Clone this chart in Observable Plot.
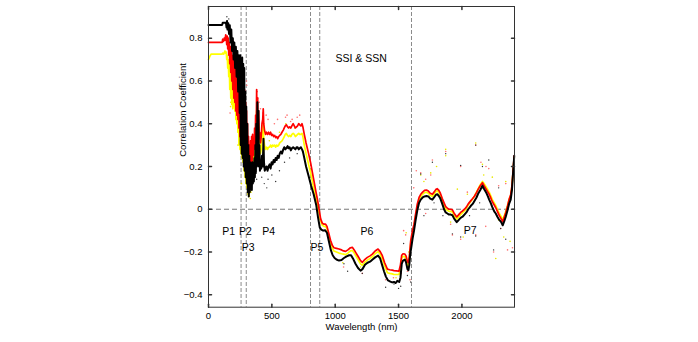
<!DOCTYPE html>
<html><head><meta charset="utf-8">
<script src="https://cdn.jsdelivr.net/npm/d3@7"></script>
<script src="https://cdn.jsdelivr.net/npm/@observablehq/plot@0.6"></script>
<style>
html,body{margin:0;padding:0;background:#fff}
#chart svg{display:block}
</style>
</head><body><div id="chart"></div>
<script>
// ---- data ----
const xTicks = [0, 500, 1000, 1500, 2000];
const xTickLabels = ["0", "500", "1000", "1500", "2000"];
const yTicks = [-0.4, -0.2, 0, 0.2, 0.4, 0.6, 0.8];
const yTickLabels = ["\u22120.4", "\u22120.2", "0", "0.2", "0.4", "0.6", "0.8"];
const xDomain = [0, 2415];
const yDomain = [-0.458, 0.948];
const dividers = [257, 298, 805, 878, 1602];
const zeroLine = [0];
const xTitle = "Wavelength (nm)";
const yTitle = "Correlation Coefficient";
const annotations = [
  ["SSI & SSN", 1002, 0.705],
  ["P1", 108, -0.104],
  ["P2", 240, -0.104],
  ["P3", 262, -0.18],
  ["P4", 424, -0.104],
  ["P5", 805, -0.18],
  ["P6", 1200, -0.104],
  ["P7", 2015, -0.1]
];

const blackLine = [[0,.862],[60,.862],[108,.862],[112,.872],[138,.872],[142,.85],[146,.88],[150,.84],[156,.87],[162,.82],[168,.86],[174,.78],[180,.84],[186,.74],[192,.80],[198,.70],[204,.78],[210,.66],[216,.76],[222,.62],[228,.74],[234,.55],[240,.72],[246,.45],[250,.72],[254,.30],[258,.70],[262,.26],[266,.71],[270,.24],[274,.68],[278,.20],[282,.66],[286,.18],[290,.55],[294,.15],[298,.48],[302,.12],[306,.40],[310,.08],[314,.30],[318,.06],[322,.25],[326,.08],[330,.22],[334,.10],[338,.20],[342,.09],[346,.22],[350,.12],[354,.20],[358,.13],[362,.24],[366,.15],[370,.30],[374,.17],[378,.40],[382,.20],[386,.50],[390,.22],[394,.46],[398,.20],[402,.30],[406,.18],[410,.22],[416,.19],[422,.25],[428,.20],[434,.33],[438,.22],[444,.18],[450,.19],[458,.20],[466,.18],[474,.20],[482,.21],[490,.19],[498,.22],[506,.21],[514,.23],[522,.22],[530,.24],[538,.23],[546,.25],[554,.24],[562,.26],[571,.27],[580,.26],[590,.28],[598,.29],[606,.28],[614,.285],[624,.295],[632,.285],[640,.29],[650,.275],[658,.285],[668,.29],[677,.285],[686,.28],[695,.29],[703,.29],[712,.28],[720,.285],[729,.29],[738,.28],[745,.27],[756,.24],[770,.20],[790,.155],[810,.11],[830,.07],[850,.02],[865,-.04],[878,-.085],[890,-.095],[905,-.10],[920,-.098],[935,-.11],[950,-.15],[965,-.19],[980,-.215],[995,-.228],[1010,-.235],[1030,-.24],[1050,-.237],[1069,-.228],[1090,-.22],[1110,-.215],[1125,-.215],[1140,-.23],[1160,-.255],[1180,-.275],[1200,-.287],[1215,-.28],[1235,-.26],[1255,-.25],[1275,-.245],[1295,-.235],[1315,-.225],[1338,-.217],[1355,-.23],[1370,-.26],[1385,-.29],[1400,-.315],[1417,-.333],[1435,-.338],[1450,-.342],[1464,-.34],[1478,-.345],[1490,-.335],[1505,-.34],[1515,-.32],[1525,-.255],[1535,-.24],[1550,-.235],[1560,-.25],[1570,-.28],[1578,-.285],[1585,-.26],[1592,-.21],[1600,-.18],[1610,-.14],[1622,-.10],[1635,-.05],[1648,-.005],[1662,.03],[1675,.045],[1690,.055],[1705,.06],[1720,.062],[1735,.06],[1750,.05],[1767,.045],[1780,.055],[1795,.068],[1806,.07],[1818,.062],[1830,.05],[1845,.025],[1859,0],[1872,-.015],[1885,-.02],[1898,-.025],[1912,-.025],[1925,-.028],[1940,-.045],[1959,-.06],[1975,-.05],[1990,-.04],[2005,-.035],[2020,-.025],[2035,-.015],[2050,0],[2069,.015],[2085,.025],[2100,.04],[2115,.055],[2130,.075],[2145,.09],[2162,.11],[2175,.095],[2190,.08],[2205,.06],[2215,.045],[2227,.03],[2240,.01],[2255,-.01],[2267,-.02],[2280,-.035],[2295,-.05],[2310,-.06],[2322,-.075],[2335,-.055],[2346,-.035],[2360,-.005],[2372,.025],[2385,.045],[2395,.09],[2405,.18],[2413,.25]];

const redLine = [[0,.78],[108,.78],[112,.795],[118,.785],[124,.80],[130,.79],[136,.815],[140,.80],[144,.77],[148,.81],[152,.75],[156,.80],[160,.72],[164,.78],[168,.68],[172,.76],[176,.64],[180,.74],[184,.60],[188,.72],[192,.56],[196,.70],[200,.52],[204,.69],[208,.50],[212,.68],[216,.46],[220,.67],[224,.44],[228,.66],[232,.42],[236,.64],[240,.38],[244,.66],[248,.34],[252,.64],[256,.30],[260,.62],[264,.28],[268,.60],[272,.26],[276,.58],[280,.22],[284,.56],[288,.20],[292,.50],[296,.18],[300,.46],[304,.15],[308,.40],[312,.12],[316,.34],[320,.12],[324,.30],[328,.14],[332,.32],[336,.18],[340,.34],[344,.22],[348,.35],[352,.25],[356,.33],[360,.28],[364,.38],[368,.30],[372,.44],[376,.32],[380,.56],[384,.36],[388,.52],[392,.34],[396,.46],[400,.33],[404,.36],[410,.31],[416,.34],[422,.40],[428,.42],[432,.47],[436,.40],[442,.37],[450,.35],[458,.36],[466,.35],[474,.36],[482,.35],[490,.36],[498,.345],[506,.35],[514,.34],[522,.345],[530,.335],[538,.34],[546,.33],[554,.34],[562,.345],[571,.35],[580,.36],[590,.37],[598,.38],[606,.39],[614,.395],[624,.385],[632,.38],[640,.385],[650,.38],[658,.39],[668,.40],[677,.39],[686,.38],[695,.385],[703,.39],[712,.40],[720,.395],[729,.39],[738,.40],[745,.385],[756,.35],[770,.31],[790,.26],[806,.217],[830,.14],[850,.075],[860,.045],[871,.007],[885,-.045],[898,-.065],[912,-.07],[924,-.07],[935,-.08],[948,-.11],[963,-.145],[978,-.17],[990,-.18],[1010,-.183],[1030,-.186],[1050,-.19],[1066,-.195],[1082,-.197],[1100,-.19],[1120,-.18],[1135,-.178],[1150,-.19],[1165,-.205],[1180,-.22],[1200,-.24],[1214,-.248],[1230,-.237],[1254,-.225],[1275,-.218],[1293,-.21],[1315,-.195],[1338,-.186],[1355,-.198],[1372,-.217],[1390,-.25],[1412,-.28],[1430,-.283],[1450,-.285],[1464,-.287],[1485,-.288],[1503,-.29],[1515,-.26],[1525,-.215],[1535,-.208],[1550,-.21],[1560,-.22],[1570,-.245],[1578,-.25],[1585,-.22],[1596,-.147],[1610,-.10],[1622,-.07],[1635,-.02],[1648,.025],[1662,.055],[1675,.07],[1690,.08],[1705,.088],[1720,.09],[1735,.085],[1750,.075],[1767,.07],[1780,.08],[1795,.093],[1806,.096],[1818,.088],[1830,.075],[1845,.05],[1859,.03],[1872,.012],[1885,.005],[1898,0],[1912,0],[1925,-.003],[1940,-.02],[1959,-.036],[1975,-.025],[1990,-.015],[2005,-.008],[2020,0],[2035,.01],[2050,.025],[2069,.039],[2085,.05],[2100,.062],[2115,.078],[2130,.095],[2145,.11],[2162,.124],[2175,.11],[2190,.095],[2205,.08],[2215,.07],[2227,.054],[2240,.035],[2255,.02],[2267,.007],[2280,-.01],[2295,-.03],[2310,-.045],[2322,-.058],[2335,-.035],[2346,-.016],[2360,.015],[2372,.045],[2385,.068],[2395,.11],[2405,.19],[2413,.25]];

const yellowLine = [[0,.70],[10,.715],[20,.725],[108,.725],[112,.73],[120,.725],[130,.74],[136,.73],[140,.735],[144,.70],[148,.72],[152,.66],[156,.70],[160,.62],[164,.68],[168,.56],[172,.66],[176,.52],[180,.64],[184,.49],[188,.63],[192,.47],[196,.62],[200,.48],[204,.60],[208,.46],[212,.58],[216,.42],[220,.56],[224,.40],[228,.55],[232,.36],[236,.54],[240,.30],[244,.56],[248,.28],[252,.58],[256,.26],[260,.56],[264,.24],[268,.55],[272,.22],[276,.52],[280,.18],[284,.48],[288,.15],[292,.42],[296,.12],[300,.36],[304,.10],[308,.30],[312,.07],[316,.25],[320,.06],[324,.22],[328,.08],[332,.24],[336,.12],[340,.26],[344,.16],[348,.27],[352,.19],[356,.26],[360,.22],[364,.30],[368,.24],[372,.36],[376,.26],[380,.46],[384,.30],[388,.44],[392,.28],[396,.40],[400,.28],[404,.30],[410,.26],[416,.28],[422,.33],[428,.35],[432,.40],[436,.33],[442,.30],[450,.28],[458,.29],[466,.28],[474,.29],[482,.29],[490,.30],[498,.29],[506,.30],[514,.295],[522,.30],[530,.29],[538,.30],[546,.295],[554,.30],[562,.31],[571,.315],[580,.32],[590,.33],[598,.34],[606,.35],[614,.355],[624,.345],[632,.34],[640,.345],[650,.34],[658,.35],[668,.355],[677,.35],[686,.34],[695,.345],[703,.35],[712,.355],[720,.35],[729,.35],[738,.355],[745,.34],[756,.30],[770,.26],[790,.21],[806,.17],[830,.10],[850,.045],[860,.02],[871,-.015],[885,-.055],[898,-.075],[912,-.08],[924,-.082],[935,-.09],[948,-.125],[963,-.16],[978,-.185],[990,-.195],[1010,-.2],[1030,-.205],[1050,-.208],[1066,-.21],[1082,-.212],[1100,-.205],[1120,-.195],[1135,-.193],[1150,-.205],[1165,-.22],[1180,-.235],[1200,-.255],[1214,-.262],[1230,-.25],[1254,-.238],[1275,-.23],[1293,-.222],[1315,-.208],[1338,-.198],[1355,-.212],[1372,-.232],[1390,-.265],[1412,-.297],[1430,-.30],[1450,-.302],[1464,-.305],[1485,-.305],[1503,-.305],[1515,-.28],[1525,-.228],[1535,-.22],[1550,-.222],[1560,-.232],[1570,-.26],[1578,-.265],[1585,-.235],[1596,-.16],[1610,-.115],[1622,-.08],[1635,-.03],[1648,.015],[1662,.045],[1675,.06],[1690,.07],[1705,.078],[1720,.08],[1735,.075],[1750,.065],[1767,.06],[1780,.07],[1795,.083],[1806,.086],[1818,.078],[1830,.065],[1845,.04],[1859,.018],[1872,0],[1885,-.005],[1898,-.01],[1912,-.01],[1925,-.013],[1940,-.03],[1959,-.046],[1975,-.035],[1990,-.025],[2005,-.016],[2020,-.008],[2035,.004],[2050,.02],[2069,.036],[2085,.048],[2100,.062],[2115,.08],[2130,.098],[2145,.115],[2162,.13],[2175,.12],[2190,.105],[2205,.09],[2215,.08],[2227,.064],[2240,.045],[2255,.03],[2267,.017],[2280,0],[2295,-.02],[2310,-.035],[2322,-.05],[2335,-.03],[2346,-.01],[2360,.018],[2372,.045],[2385,.065],[2395,.105],[2405,.185],[2413,.245]];

const redDots = [[300,.60],[302,.58],[385,.55],[390,.52],[400,.50],[410,.47],[395,.42],[430,.45],[455,.44],[470,.42],[520,.40],[545,.42],[608,.43],[620,.44],[648,.41],[660,.42],[700,.43],[720,.44],[350,.30],[290,.55],[170,.45],[230,.48],[1066,-.27],[1214,-.30],[1398,-.33],[1460,-.32],[1520,-.30],[1556,-.12],[1570,-.29],[1590,-.33],[1540,-.10],[1675,.17],[1714,.14],[1754,.16],[1767,.23],[1872,.27],[1990,.20],[2043,.08],[2109,.30],[2150,.22],[2190,.20],[2212,.19],[2290,.11],[2346,.12],[1911,-.07],[1925,-.12],[1990,-.14],[2109,-.12],[2188,-.08],[2250,-.20],[2306,-.09],[2360,-.19],[2399,-.18],[1714,-.02],[1620,.10],[1640,.18]];
const yellowDots = [[174,.48],[176,.50],[232,.30],[240,.33],[260,.12],[330,.05],[335,.08],[420,.30],[480,.32],[560,.36],[610,.40],[680,.38],[1060,-.25],[1200,-.27],[1480,-.32],[1560,-.11],[1580,-.20],[1675,.16],[1754,.17],[1872,.25],[1872,.28],[1964,.094],[2043,.07],[2109,.31],[2162,.21],[2172,.16],[2240,.15],[2346,.13],[1911,-.06],[2010,-.13],[2267,-.23],[2290,-.05],[2330,-.13],[2380,-.15],[1700,.13],[1800,.20]];
const blackDots = [[145,.90],[150,.88],[160,.89],[300,.12],[320,.08],[420,.15],[440,.12],[470,.14],[500,.16],[530,.13],[560,.18],[600,.22],[640,.24],[700,.26],[460,.10],[380,.14],[1069,-.255],[1098,-.29],[1214,-.30],[1398,-.365],[1464,-.35],[1500,-.37],[1517,-.36],[1570,-.31],[1596,-.34],[1540,-.16],[1675,.165],[1767,.22],[1872,.26],[1990,.205],[2109,.30],[2162,.20],[2212,.23],[2290,.10],[1925,-.115],[1990,-.13],[2109,-.125],[2250,-.19],[2306,-.09],[2346,-.14],[1700,-.03],[1780,.03],[1850,-.03],[2060,-.03],[2140,.03]];

// ---- chart ----
const font = "Liberation Sans, Arial, Helvetica, sans-serif";
const axisColor = "#333";
const tickShape = {draw(ctx, l) { ctx.moveTo(0, 0); ctx.lineTo(0, -l); }};
const px = d => d[0], py = d => d[1];

const chart = Plot.plot({
  width: 698,
  height: 342,
  marginLeft: 208,
  marginRight: 184,
  marginTop: 6,
  marginBottom: 35.3,
  style: {fontFamily: font, fontSize: "9.5px", background: "#fff", color: "#000"},
  x: {domain: xDomain},
  y: {domain: yDomain},
  marks: [
    Plot.ruleX(dividers, {stroke: "#8a8a8a", strokeWidth: 1, strokeDasharray: "4,2"}),
    Plot.ruleY(zeroLine, {stroke: "#777", strokeWidth: 1, strokeDasharray: "5,3"}),
    Plot.dot(yellowDots, {x: px, y: py, r: 0.8, fill: "#e8e800", stroke: null}),
    Plot.dot(redDots, {x: px, y: py, r: 0.8, fill: "#ff7070", stroke: null}),
    Plot.dot(blackDots, {x: px, y: py, r: 0.7, fill: "#333", stroke: null}),
    Plot.line(yellowLine, {x: px, y: py, stroke: "#ffff00", strokeWidth: 1.7}),
    Plot.line(redLine, {x: px, y: py, stroke: "#ff0000", strokeWidth: 1.7}),
    Plot.line(blackLine, {x: px, y: py, stroke: "#000", strokeWidth: 2}),
    Plot.frame({stroke: axisColor, strokeWidth: 1}),
    Plot.vector(xTicks, {x: d => d, frameAnchor: "bottom", length: 3, rotate: 0, anchor: "start", shape: tickShape, stroke: axisColor}),
    Plot.vector(xTicks, {x: d => d, frameAnchor: "top", length: 3, rotate: 180, anchor: "start", shape: tickShape, stroke: axisColor}),
    Plot.vector(yTicks, {y: d => d, frameAnchor: "left", length: 3, rotate: 90, anchor: "start", shape: tickShape, stroke: axisColor}),
    Plot.vector(yTicks, {y: d => d, frameAnchor: "right", length: 3, rotate: -90, anchor: "start", shape: tickShape, stroke: axisColor}),
    Plot.axisX({ticks: xTicks, tickSize: 0, tickPadding: 5, tickFormat: (d) => xTickLabels[xTicks.indexOf(d)], label: null, fontSize: 9.5}),
    Plot.axisY({ticks: yTicks, tickSize: 0, tickPadding: 6, tickFormat: (d) => yTickLabels[yTicks.indexOf(d)], label: null, fontSize: 9.5}),
    Plot.text([xTitle], {text: d => d, frameAnchor: "bottom", dy: 19.5, lineAnchor: "middle", fontSize: 9.5}),
    Plot.text([yTitle], {text: d => d, frameAnchor: "left", dx: -25.5, rotate: -90, lineAnchor: "middle", fontSize: 9.5}),
    Plot.text(annotations, {x: d => d[1], y: d => d[2], text: d => d[0], textAnchor: "start", lineAnchor: "middle", fontSize: 10.5})
  ]
});
document.getElementById("chart").appendChild(chart);
</script>
</body></html>
